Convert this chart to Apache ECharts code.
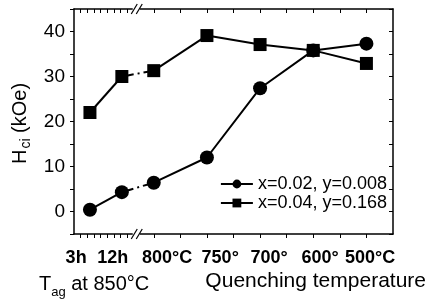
<!DOCTYPE html>
<html>
<head>
<meta charset="utf-8">
<script src="https://cdn.jsdelivr.net/npm/echarts@6/dist/echarts.min.js"></script>
<style>
  html, body { margin: 0; padding: 0; background: #fff; }
  #chart { width: 427px; height: 301px; }
</style>
</head>
<body>
<div id="chart"></div>
<script>
// categories on a broken x axis: ageing time | quenching temperature
var categories = ['3h', '12h', '800°C', '750°', '700°', '600°', '500°C'];
var xSlots = [-0.2, 0.4, 1, 2, 3, 4, 5];           // where each category sits on the axis
var labelSlots = [-0.46, 0.23, 1.25, 2.25, 3.17, 4.13, 5.07]; // where the printed label sits
var seriesNames = ['x=0.02, y=0.008', 'x=0.04, y=0.168'];
var circleValues = [0.4, 4.3, 6.4, 12, 27.4, 35.8, 37.3];
var squareValues = [22, 30, 31.3, 39.1, 37.1, 35.8, 32.9];
var yTicks = [0, 10, 20, 30, 40];

var FONT = "'Liberation Sans', Arial, sans-serif";
var xMin = -0.5, xMax = 5.5, yMin = -5, yMax = 45;
var breakAt = 0.68;

// ruler ticks on the short left part, half steps on the right part
var xTicks = [];
for (var i = 1; i <= 8; i++) xTicks.push(xMin + i * 0.125);
for (var j = 1; j <= 5; j += 0.5) xTicks.push(j);

function pts(vals, from, to) {
  var out = [];
  for (var k = from; k <= to; k++) out.push([xSlots[k], vals[k]]);
  return out;
}

function group(name, vals, symbol, size) {
  var base = {
    name: name,
    type: 'line',
    xAxisIndex: 0,
    yAxisIndex: 0,
    symbol: symbol,
    symbolSize: size,
    itemStyle: { color: '#000' },
    lineStyle: { color: '#000', width: 2 },
    z: 3
  };
  return [
    Object.assign({}, base, { data: pts(vals, 0, 1) }),
    Object.assign({}, base, {
      data: pts(vals, 1, 2), showSymbol: false, z: 2,
      lineStyle: { color: '#000', width: 2, type: [2, 4, 6, 4] }
    }),
    Object.assign({}, base, { data: pts(vals, 2, 6) })
  ];
}

var chart = echarts.init(document.getElementById('chart'));

var axisLine = { show: true, onZero: false, lineStyle: { color: '#000', width: 1.5 } };

var option = {
  animation: false,
  textStyle: { fontFamily: FONT, color: '#000' },
  grid: { left: 74, right: 34, top: 9, bottom: 67 },
  title: [{
    text: 'T{s|ag} at 850°C',
    left: 34, top: 264,
    textStyle: {
      fontFamily: FONT, fontSize: 20, fontWeight: 'normal', color: '#000',
      rich: { s: { fontFamily: FONT, fontSize: 13, color: '#000', padding: [17, 0, 0, 0] } }
    }
  }, {
    text: 'Quenching temperature',
    right: -4, top: 266,
    textStyle: { fontFamily: FONT, fontSize: 21, fontWeight: 'normal', color: '#000' }
  }],
  legend: {
    data: seriesNames,
    orient: 'vertical',
    right: 40, top: 175, padding: 0,
    itemWidth: 32, itemHeight: 11, itemGap: 1,
    textStyle: { fontFamily: FONT, fontSize: 18, color: '#000' }
  },
  xAxis: [{
    type: 'value', position: 'bottom', min: xMin, max: xMax,
    axisLine: axisLine,
    axisTick: { customValues: xTicks, length: 4, lineStyle: { color: '#000' } },
    axisLabel: {
      customValues: labelSlots,
      margin: 15,
      fontFamily: FONT, fontSize: 18, fontWeight: 'bold', color: '#000',
      formatter: function (v) {
        var best = 0;
        for (var k = 1; k < labelSlots.length; k++) {
          if (Math.abs(labelSlots[k] - v) < Math.abs(labelSlots[best] - v)) best = k;
        }
        return categories[best];
      }
    },
    splitLine: { show: false }
  }, {
    type: 'value', position: 'top', min: xMin, max: xMax,
    axisLine: axisLine,
    axisTick: { customValues: xTicks, inside: true, length: 4, lineStyle: { color: '#000' } },
    axisLabel: { show: false },
    splitLine: { show: false }
  }],
  yAxis: [{
    type: 'value', position: 'left', min: yMin, max: yMax, interval: 5,
    name: 'H{s|ci} (kOe)', nameLocation: 'middle', nameRotate: 90, nameGap: 38,
    nameTextStyle: {
      fontFamily: FONT, fontSize: 20, color: '#000', padding: [0, 4, 0, 0],
      rich: { s: { fontFamily: FONT, fontSize: 14, color: '#000', padding: [10, 0, 0, 1] } }
    },
    axisLine: axisLine,
    axisTick: { show: true, length: 4, lineStyle: { color: '#000' } },
    axisLabel: {
      margin: 9, fontFamily: FONT, fontSize: 19, color: '#000',
      formatter: function (v) { return yTicks.indexOf(v) >= 0 ? String(v) : ''; }
    },
    splitLine: { show: false }
  }, {
    type: 'value', position: 'right', min: yMin, max: yMax, interval: 5,
    axisLine: axisLine,
    axisTick: { show: true, inside: true, length: 4, lineStyle: { color: '#000' } },
    axisLabel: { show: false },
    splitLine: { show: false }
  }],
  series: group(seriesNames[0], circleValues, 'circle', 14)
    .concat(group(seriesNames[1], squareValues, 'rect', 13))
};

chart.setOption(option);

// axis break marks "//" on the bottom and top axes
var marks = [];
[yMin, yMax].forEach(function (yv) {
  var p = chart.convertToPixel({ gridIndex: 0 }, [breakAt, yv]);
  marks.push({
    type: 'rect', shape: { x: p[0] - 4, y: p[1] - 2, width: 7, height: 4 },
    style: { fill: '#fff' }, z: 10
  });
  [-2.5, 2.5].forEach(function (dx) {
    marks.push({
      type: 'line',
      shape: { x1: p[0] + dx - 3, y1: p[1] + 5, x2: p[0] + dx + 3, y2: p[1] - 5 },
      style: { stroke: '#000', lineWidth: 1.2 }, z: 11
    });
  });
});
chart.setOption({ graphic: marks });
</script>
</body>
</html>
